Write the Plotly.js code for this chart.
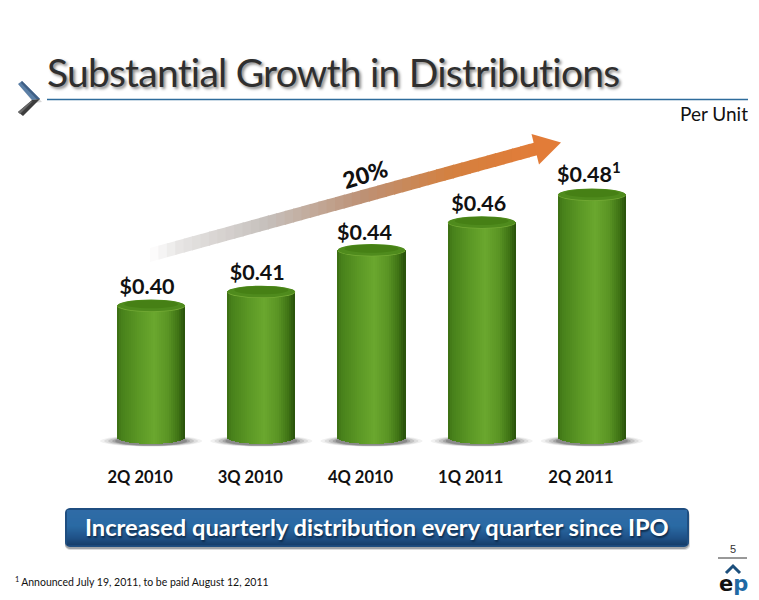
<!DOCTYPE html>
<html><head><meta charset="utf-8">
<script src="https://cdn.plot.ly/plotly-3.0.1.min.js"></script>
<style>html,body{margin:0;padding:0;background:#fff}#c{width:759px;height:600px}
.gtitle{letter-spacing:-0.78px}</style>
</head><body><div id="c"></div>
<script>
const categories = ["2Q 2010","3Q 2010","4Q 2010","1Q 2011","2Q 2011"];
const distributions = [0.40,0.41,0.44,0.46,0.48];
const valueLabels = ["$0.40","$0.41","$0.44","$0.46","$0.48<sup>1</sup>"];
const titleText = "Substantial Growth in Distributions";
const bannerText = "Increased quarterly distribution every quarter since IPO";
const footnoteText = "<sup>1 </sup>Announced July 19, 2011, to be paid August 12, 2011";
const growthText = "20%";
const unitText = "Per Unit";
const pageNumber = "5";

const W=759,H=600,L=96,R=647,T=130,B=450;
const yLow=0.2956,yHigh=0.5263;
const pxPerY=(B-T)/(yHigh-yLow), pxPerX=(R-L)/5;
const px=x=>(x-L)/(R-L), py=y=>(B-y)/(B-T), yData=y=>yLow+(B-y)/pxPerY;
const xs=categories.map((_,i)=>i);
const labelShiftPx=[-4,-4,-7,-3,-3];
const labelLiftPx=[6,6,4,6,7];
const hex=c=>[1,3,5].map(i=>parseInt(c.substr(i,2),16));
function ramp(stops,t){
  for(let i=1;i<stops.length;i++){ if(t<=stops[i][0]){
    const a=stops[i-1],b=stops[i],f=(t-a[0])/(b[0]-a[0]||1),ca=hex(a[1]),cb=hex(b[1]);
    return 'rgb('+ca.map((v,k)=>Math.round(v+(cb[k]-v)*f)).join(',')+')';}}
  return stops[stops.length-1][1];
}
const traces=[];
// Cylinder bodies
const halfW=34/pxPerX, strips=34, bottomBulge=7/pxPerY, edgeBase=yData(437);
const bodyRamp=[[0,'#3a6c12'],[0.06,'#47801a'],[0.3,'#5a9624'],[0.55,'#6aa72e'],[0.75,'#5a9424'],[0.9,'#3f7315'],[1,'#27500a']];
for(let s=0;s<strips;s++){
  const t=(s+0.5)/strips, off=(2*t-1)*halfW;
  const base=edgeBase-bottomBulge*Math.sqrt(1-(2*t-1)*(2*t-1));
  traces.push({type:'bar',x:xs.map(x=>x+off),y:distributions.map(v=>v-base),base:base,
    width:2*halfW/strips*1.12,marker:{color:ramp(bodyRamp,t),line:{width:0}},hoverinfo:'skip',showlegend:false});
}
// Value labels
traces.push({type:'scatter',mode:'text',x:xs.map((x,i)=>x+labelShiftPx[i]/pxPerX),y:distributions.map((v,i)=>v+labelLiftPx[i]/pxPerY),text:valueLabels,textposition:'top center',
  textfont:{family:'Lato',size:21.5,color:'#111',weight:700},hoverinfo:'skip',showlegend:false,cliponaxis:false});

const shapes=[];
const paper=(path,fill,layer,extra)=>shapes.push(Object.assign({type:'path',xref:'paper',yref:'paper',path,fillcolor:fill,line:{width:0},layer:layer||'above'},extra||{}));
const poly=pts=>'M'+pts.map(p=>px(p[0])+','+py(p[1])).join(' L')+' Z';
// Ground shadows and cylinder tops
const shadowSteps=[[51,5.5,'#f1f1f1'],[47,5.3,'#dedede'],[43,5,'#c4c4c4'],[39,4.8,'#a6a6a6'],[36,4.6,'#8a8a8a']];
xs.forEach((x,i)=>{
  shadowSteps.forEach(st=>shapes.push({type:'circle',xref:'x',yref:'y',x0:x-st[0]/pxPerX,x1:x+st[0]/pxPerX,
    y0:yData(441+st[1]),y1:yData(441-st[1]),fillcolor:st[2],line:{width:0},layer:'below'}));
  const v=distributions[i];
  const ell=(hw,cy,ry,col)=>shapes.push({type:'circle',xref:'x',yref:'y',x0:x-hw/pxPerX,x1:x+hw/pxPerX,
    y0:v-(cy+ry)/pxPerY,y1:v-(cy-ry)/pxPerY,fillcolor:col,line:{width:0},layer:'above'});
  ell(34,0.8,6,'#74aa36');
  ell(33.6,0.2,5.8,'#4f8b1d');
  ell(27,-1,4,'#468015');
});
// Title rule
shapes.push({type:'line',xref:'paper',yref:'paper',x0:px(47),x1:px(748),y0:py(99.5),y1:py(99.5),line:{color:'#2e6c9c',width:1.5},layer:'above'});
// Chevron
paper(poly([[19,85],[24,83],[42,102],[34,103]]),'#d6d6d6');
paper(poly([[18,84],[22,81],[40,99],[32,100]]),'#5b7fa6');
paper(poly([[22,81],[40,99],[37,99.5],[21,83]]),'#3f5f85');
paper(poly([[32,100],[40,99],[23,116],[18,112]]),'#3d3d3d');
paper(poly([[30,102],[33,101],[20,114],[18,112]]),'#6a6a6a');
// Arrow with a fading shaft
const arrowRamp=[[0,'#ffffff'],[0.08,'#e6e4e3'],[0.3,'#c6c0bc'],[0.55,'#bd9175'],[0.78,'#d4803f'],[1,'#e27c38']];
const sN=46,sx0=150,sx1=537;
const topY=x=>248+(x-150)*(143-248)/(533-150), botY=x=>262+(x-150)*(155-262)/(538-150);
for(let i=0;i<sN;i++){
  const a=sx0+(sx1-sx0)*i/sN, b=sx0+(sx1-sx0)*(i+1.15)/sN;
  paper(poly([[a,topY(a)],[b,topY(b)],[b,botY(b)],[a,botY(a)]]),ramp(arrowRamp,(i+0.5)/sN));
}
paper(poly([[531.5,134],[561,142.5],[539,164.5]]),'#e27c38');
// Banner
function rr(x0,y0,x1,y1,r){const p=[];for(let k=0;k<=6;k++){const a=k/6*Math.PI/2;p.push([x1-r+r*Math.sin(a),y0+r-r*Math.cos(a)]);}
  for(let k=0;k<=6;k++){const a=k/6*Math.PI/2;p.push([x1-r+r*Math.cos(a),y1-r+r*Math.sin(a)]);}
  for(let k=0;k<=6;k++){const a=k/6*Math.PI/2;p.push([x0+r-r*Math.sin(a),y1-r+r*Math.cos(a)]);}
  for(let k=0;k<=6;k++){const a=k/6*Math.PI/2;p.push([x0+r-r*Math.cos(a),y0+r-r*Math.sin(a)]);}
  return poly(p);}
paper(rr(65,511,690,550,5),'#dcdcdc');
paper(rr(65,510,689,549,5),'#a0a4a8');
paper(rr(65,508,689,547,5),'#1f4e80');
const bannerRamp=[[0,'#2f6ba6'],[0.45,'#2a6aa4'],[0.8,'#1f5288'],[1,'#173f6c']];
for(let i=0;i<35;i++){const y=510+i;paper(poly([[67,y],[687,y],[687,y+1.2],[67,y+1.2]]),ramp(bannerRamp,i/34));}
// Page number rule and logo caret
shapes.push({type:'line',xref:'paper',yref:'paper',x0:px(718),x1:px(747),y0:py(558),y1:py(558),line:{color:'#333',width:1},layer:'above'});
shapes.push({type:'path',xref:'paper',yref:'paper',path:'M'+px(726)+','+py(573)+' L'+px(733)+','+py(566)+' L'+px(740)+','+py(573),line:{color:'#1c4f7c',width:3},fillcolor:'rgba(0,0,0,0)',layer:'above'});

const ann=(text,x,y,o)=>Object.assign({text,xref:'paper',yref:'paper',x:px(x),y:py(y),showarrow:false,xanchor:'center',yanchor:'middle'},o);
const annotations=[
 ann(unitText,750,114,{xanchor:'right',font:{family:'Lato',size:19,color:'#111'}}),
 ann(growthText,365,174,{textangle:-17,font:{family:'Lato',size:23,color:'#111',weight:900}}),
 ann(bannerText,377.5,527,{font:{family:'Lato',size:23.7,color:'#fff',weight:700,shadow:'1px 2px 2px #0d2a4a'}}),
 ann(footnoteText,13,581,{xanchor:'left',font:{family:'Lato',size:10.5,color:'#111'}}),
 ann(pageNumber,733,549,{font:{family:'Liberation Sans',size:11,color:'#333'}}),
 ann('e<span style="color:#1f6aa5">p</span>',733,584,{font:{family:'DejaVu Sans',size:21,color:'#111',weight:700}})
];
const layout={
 width:W,height:H,margin:{l:L,r:W-R,t:T,b:H-B,pad:0},
 paper_bgcolor:'#fff',plot_bgcolor:'rgba(0,0,0,0)',showlegend:false,barmode:'overlay',bargap:0,
 title:{text:titleText,x:47/W,xanchor:'left',xref:'container',y:1-73/H,yanchor:'middle',yref:'container',
   font:{family:'Lato',size:39,color:'#2f2f2f',shadow:'2px 2px 3px #888'}},
 xaxis:{range:[-0.5,4.5],tickvals:xs.map(x=>x-11/pxPerX),ticktext:categories,showgrid:false,zeroline:false,showline:false,ticks:'',
   tickfont:{family:'Lato',size:16.5,color:'#111',weight:700},ticklabelstandoff:15,fixedrange:true},
 yaxis:{range:[yLow,yHigh],visible:false,showgrid:false,zeroline:false,fixedrange:true},
 shapes,annotations
};
Plotly.newPlot('c',traces,layout,{displayModeBar:false,staticPlot:true});
</script></body></html>
